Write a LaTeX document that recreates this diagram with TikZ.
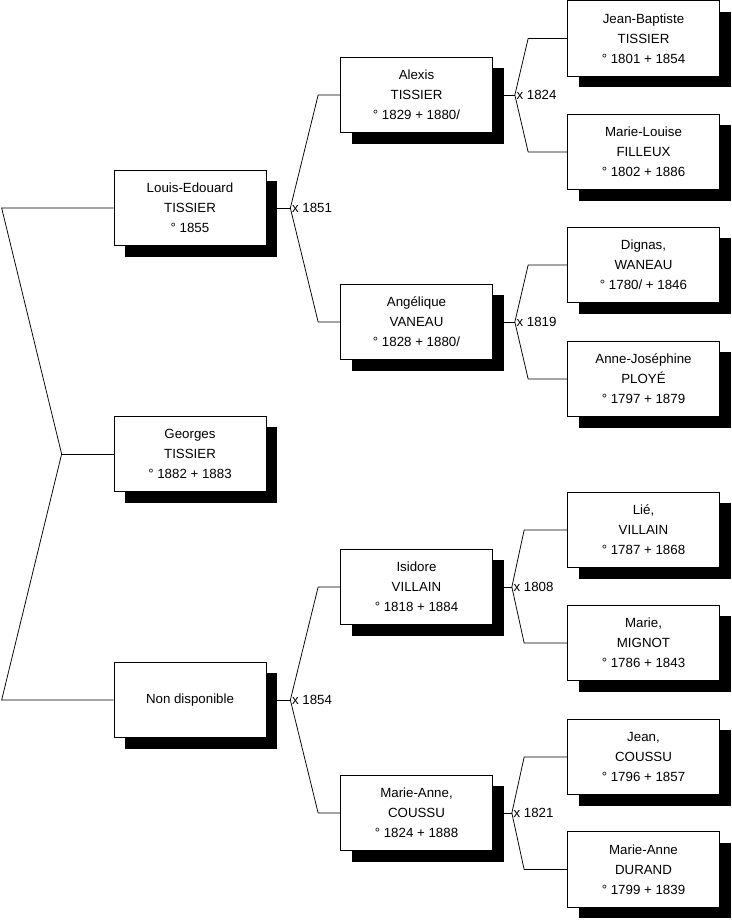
\documentclass[tikz,border=0pt]{standalone}
\usepackage{fontspec}
\setmainfont{Liberation Sans}
\usetikzlibrary{shadows}
\begin{document}
\begin{tikzpicture}[x=1pt,y=-1pt,
  person/.style={draw=black, line width=0.7pt, fill=white, minimum width=152pt, minimum height=75.5pt,
    inner sep=0pt, align=center, font=\fontsize{13.3}{20}\selectfont,
    drop shadow={shadow xshift=11pt, shadow yshift=-11pt, fill=black, opacity=1}},
  link/.style={draw=black, line width=0.75pt},
  marr/.style={anchor=west, inner sep=1.5pt, font=\fontsize{13.3}{16}\selectfont}]
\useasboundingbox (0,0) rectangle (731,920);
% generation 1
\node[person] (louis) at (190,208) {Louis-Edouard\\TISSIER\\° 1855};
\node[person] (georges) at (190,454) {Georges\\TISSIER\\° 1882 + 1883};
\node[person] (nondisp) at (190,700) {Non disponible};
% generation 2
\node[person] (alexis) at (416.5,95) {Alexis\\TISSIER\\° 1829 + 1880/};
\node[person] (angelique) at (416.5,322) {Angélique\\VANEAU\\° 1828 + 1880/};
\node[person] (isidore) at (416.5,587) {Isidore\\VILLAIN\\° 1818 + 1884};
\node[person] (coussu) at (416.5,813) {Marie-Anne,\\COUSSU\\° 1824 + 1888};
% generation 3
\node[person] (jb) at (643.5,38.5) {Jean-Baptiste\\TISSIER\\° 1801 + 1854};
\node[person] (ml) at (643.5,152) {Marie-Louise\\FILLEUX\\° 1802 + 1886};
\node[person] (dignas) at (643.5,265) {Dignas,\\WANEAU\\° 1780/ + 1846};
\node[person] (aj) at (643.5,379) {Anne-Joséphine\\PLOYÉ\\° 1797 + 1879};
\node[person] (lie) at (643.5,530) {Lié,\\VILLAIN\\° 1787 + 1868};
\node[person] (marie) at (643.5,643) {Marie,\\MIGNOT\\° 1786 + 1843};
\node[person] (jean) at (643.5,757) {Jean,\\COUSSU\\° 1796 + 1857};
\node[person] (durand) at (643.5,869.5) {Marie-Anne\\DURAND\\° 1799 + 1839};
% root connector
\coordinate (r0) at ([xshift=-52pt]georges.west);
\draw[link] (georges.west) -- (r0);
\draw[link] (r0) -- ([xshift=-112pt]louis.west) -- (louis.west);
\draw[link] (r0) -- ([xshift=-112pt]nondisp.west) -- (nondisp.west);
% marriages generation 1
\coordinate (m1) at ([xshift=24pt]louis.east);
\draw[link] ([xshift=11pt]louis.east) -- (m1);
\draw[link] (m1) -- ([xshift=-22pt]alexis.west) -- (alexis.west);
\draw[link] (m1) -- ([xshift=-22pt]angelique.west) -- (angelique.west);
\node[marr] (l1) at (m1) {x 1851};
\coordinate (m2) at ([xshift=24pt]nondisp.east);
\draw[link] ([xshift=11pt]nondisp.east) -- (m2);
\draw[link] (m2) -- ([xshift=-22pt]isidore.west) -- (isidore.west);
\draw[link] (m2) -- ([xshift=-22pt]coussu.west) -- (coussu.west);
\node[marr] (l2) at (m2) {x 1854};
% marriages generation 2
\coordinate (m3) at ([xshift=22pt]alexis.east);
\draw[link] ([xshift=11pt]alexis.east) -- (m3);
\draw[link] (m3) -- ([xshift=-39pt]jb.west) -- (jb.west);
\draw[link] (m3) -- ([xshift=-39pt]ml.west) -- (ml.west);
\node[marr] (l3) at (m3) {x 1824};
\coordinate (m4) at ([xshift=22pt]angelique.east);
\draw[link] ([xshift=11pt]angelique.east) -- (m4);
\draw[link] (m4) -- ([xshift=-39pt]dignas.west) -- (dignas.west);
\draw[link] (m4) -- ([xshift=-39pt]aj.west) -- (aj.west);
\node[marr] (l4) at (m4) {x 1819};
\coordinate (m5) at ([xshift=19pt]isidore.east);
\draw[link] ([xshift=11pt]isidore.east) -- (m5);
\draw[link] (m5) -- ([xshift=-43pt]lie.west) -- (lie.west);
\draw[link] (m5) -- ([xshift=-43pt]marie.west) -- (marie.west);
\node[marr] (l5) at (m5) {x 1808};
\coordinate (m6) at ([xshift=19pt]coussu.east);
\draw[link] ([xshift=11pt]coussu.east) -- (m6);
\draw[link] (m6) -- ([xshift=-43pt]jean.west) -- (jean.west);
\draw[link] (m6) -- ([xshift=-43pt]durand.west) -- (durand.west);
\node[marr] (l6) at (m6) {x 1821};
\end{tikzpicture}
\end{document}
